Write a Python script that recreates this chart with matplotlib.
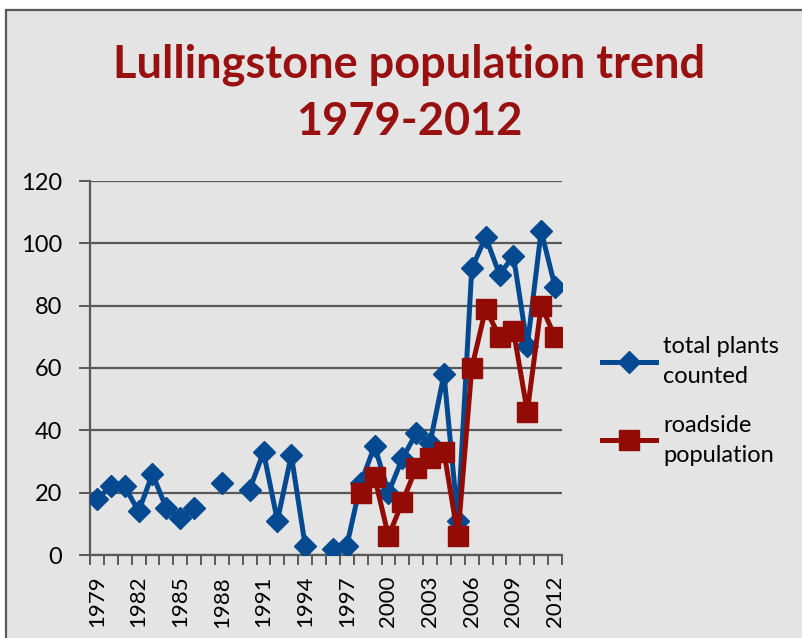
import matplotlib
matplotlib.use("Agg")
import matplotlib.pyplot as plt
import numpy as np
from matplotlib.patches import Rectangle

nan = np.nan
years = list(range(1979, 2013))
total_plants = [18, 22, 22, 14, 26, 15, 12, 15, nan, 23, nan, 21, 33, 11, 32, 3, nan,
                2, 3, 23, 35, 20, 31, 39, 36, 58, 11, 92, 102, 90, 96, 67, 104, 86]
roadside = [nan] * 19 + [20, 25, 6, 17, 28, 31, 33, 6, 60, 79, 70, 72, 46, 80, 70]

BLUE = "#054a91"
RED = "#920b05"
BG = "#e4e4e4"
GRID = "#595959"

plt.rcParams["font.family"] = ["Lato", "DejaVu Sans"]

fig = plt.figure(figsize=(8.03, 6.38), dpi=100)
fig.patch.set_facecolor("white")
# chart frame
fig.patches.append(Rectangle((6 / 803, -0.05), 1.0, 1 - 10 / 638 + 0.05,
                             transform=fig.transFigure, facecolor=BG,
                             edgecolor=GRID, linewidth=1.6, zorder=-10))

ax = fig.add_axes([90 / 803, 1 - 555 / 638, 472 / 803, 374 / 638])
ax.set_facecolor(BG)
x = np.arange(len(years))

ax.plot(x, total_plants, color=BLUE, lw=3.6, marker="D", ms=11.5,
        label="total plants\ncounted", zorder=3)
ax.plot(x, roadside, color=RED, lw=3.6, marker="s", ms=14,
        label="roadside\npopulation", zorder=4)

ax.set_xlim(-0.5, len(years) - 0.5)
ax.set_ylim(0, 120)
ax.set_yticks(range(0, 121, 20))
ax.yaxis.grid(True, color=GRID, lw=1.6)
ax.set_axisbelow(True)

ax.set_xticks(x[::3])
ax.set_xticklabels([str(y) for y in years[::3]], rotation=90)
ax.set_xticks(np.arange(-0.5, len(years)), minor=True)
ax.tick_params(axis="x", which="major", length=0, pad=15, labelsize=16)
ax.tick_params(axis="x", which="minor", length=7, width=1.4, color=GRID)
ax.tick_params(axis="y", length=8, width=1.4, color=GRID, labelsize=17, pad=12)

for s in ["top", "right"]:
    ax.spines[s].set_visible(False)
for s in ["left", "bottom"]:
    ax.spines[s].set_color(GRID)
    ax.spines[s].set_linewidth(1.6)

leg = fig.legend(loc="center left", bbox_to_anchor=(602 / 803, 1 - 401 / 638),
                 frameon=False, fontsize=17, handlelength=2.3, labelspacing=1.15,
                 handletextpad=0.3, borderpad=0, borderaxespad=0)
for t in leg.get_texts():
    t.set_linespacing(1.55)

fig.text(0.51, 1 - 93 / 638, "Lullingstone population trend\n1979-2012",
         ha="center", va="center", fontsize=32.5, fontweight="bold",
         color="#991010", linespacing=1.45)

fig.savefig("out.png", dpi=100)
